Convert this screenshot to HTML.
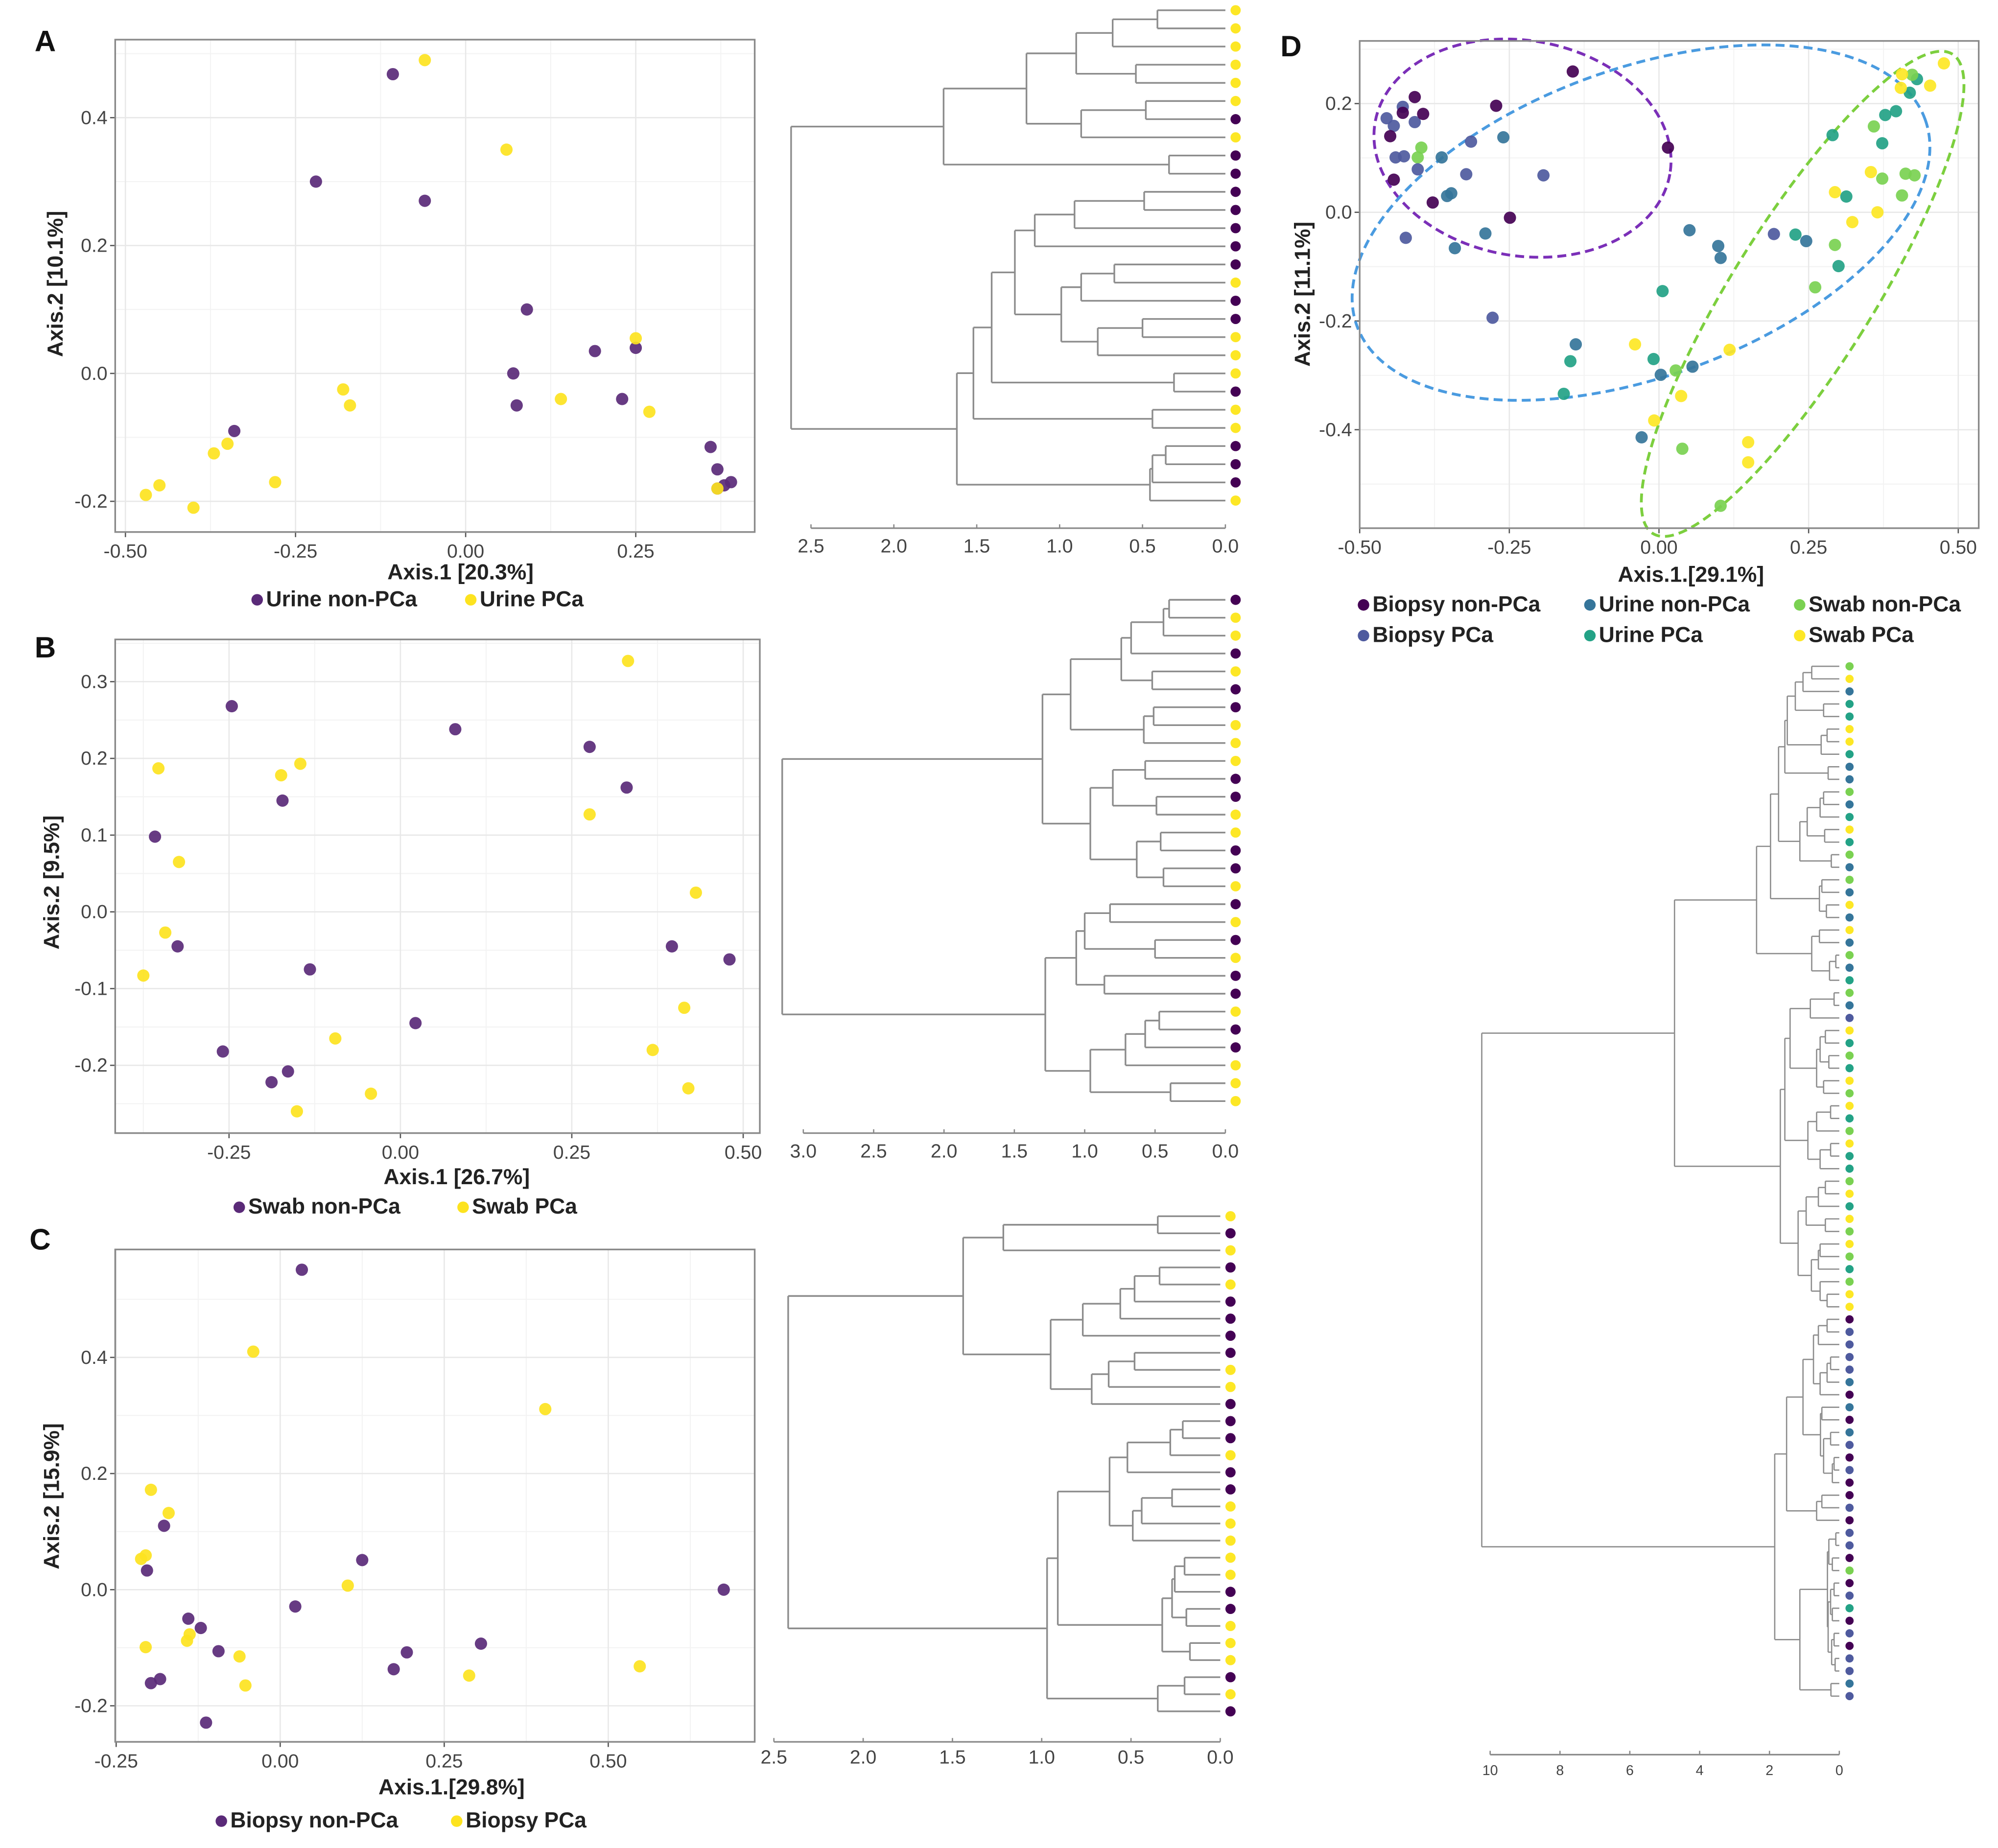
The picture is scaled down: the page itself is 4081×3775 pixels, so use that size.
<!DOCTYPE html>
<html><head><meta charset="utf-8"><style>
html,body{margin:0;padding:0;background:#fff;}
svg{display:block;}
text{font-family:"Liberation Sans",Arial,sans-serif;}
</style></head><body>
<svg id="fig" xmlns="http://www.w3.org/2000/svg" width="4081" height="3775" viewBox="0 0 1562 1445">
<rect x="0" y="0" width="1562" height="1445" fill="#fff"/>
<g id="root"></g>
</svg>
<script>
// ---------- DATA ----------
// Panel A (Urine)
const aPurpleX=[-0.107,-0.22,-0.06,0.09,0.19,0.07,0.25,0.075,0.23,-0.34,0.36,0.37,0.38,0.37,0.39];
const aPurpleY=[0.468,0.30,0.27,0.10,0.035,0.0,0.04,-0.05,-0.04,-0.09,-0.115,-0.15,-0.175,-0.18,-0.17];
const aYellowX=[-0.06,0.06,0.25,-0.18,-0.17,0.14,0.27,-0.35,-0.37,-0.28,-0.45,-0.47,-0.40,0.37];
const aYellowY=[0.49,0.35,0.055,-0.025,-0.05,-0.04,-0.06,-0.11,-0.125,-0.17,-0.175,-0.19,-0.21,-0.18];
const aXTicks=[-0.5,-0.25,0,0.25];
const aXLabels=["-0.50","-0.25","0.00","0.25"];
const aYTicks=[-0.2,0,0.2,0.4];
const aYLabels=["-0.2","0.0","0.2","0.4"];
// Panel B (Swab)
const bPurpleX=[-0.246,0.080,0.276,0.330,-0.172,-0.358,-0.325,-0.132,0.396,0.480,0.022,-0.259,-0.164,-0.188];
const bPurpleY=[0.268,0.238,0.215,0.162,0.145,0.098,-0.045,-0.075,-0.045,-0.062,-0.145,-0.182,-0.208,-0.222];
const bYellowX=[0.332,-0.353,-0.146,-0.174,0.276,-0.323,0.431,-0.343,-0.375,-0.095,0.414,0.368,-0.043,-0.151,0.420];
const bYellowY=[0.327,0.187,0.193,0.178,0.127,0.065,0.025,-0.027,-0.083,-0.165,-0.125,-0.180,-0.237,-0.260,-0.230];
const bXTicks=[-0.25,0,0.25,0.5];
const bXLabels=["-0.25","0.00","0.25","0.50"];
const bYTicks=[-0.2,-0.1,0,0.1,0.2,0.3];
const bYLabels=["-0.2","-0.1","0.0","0.1","0.2","0.3"];
// Panel C (Biopsy)
const cPurpleX=[0.033,-0.177,-0.203,0.125,0.023,-0.140,-0.121,-0.094,-0.183,-0.197,0.173,0.193,0.306,-0.113,0.676];
const cPurpleY=[0.551,0.110,0.033,0.051,-0.029,-0.050,-0.066,-0.106,-0.154,-0.161,-0.137,-0.108,-0.093,-0.229,0.0];
const cYellowX=[-0.041,0.404,-0.197,-0.170,-0.212,-0.205,-0.205,-0.138,-0.142,0.103,-0.062,-0.053,0.288,0.548];
const cYellowY=[0.410,0.311,0.172,0.132,0.053,0.059,-0.099,-0.077,-0.088,0.007,-0.115,-0.165,-0.148,-0.132];
const cXTicks=[-0.25,0,0.25,0.5];
const cXLabels=["-0.25","0.00","0.25","0.50"];
const cYTicks=[-0.2,0,0.2,0.4];
const cYLabels=["-0.2","0.0","0.2","0.4"];
// Panel D (all)
const dBiopsyNonX=[-0.144,-0.408,-0.428,-0.394,-0.272,-0.449,0.015,-0.443,-0.378,-0.249];
const dBiopsyNonY=[0.259,0.212,0.183,0.181,0.196,0.140,0.119,0.060,0.018,-0.010];
const dBiopsyPcaX=[-0.455,-0.428,-0.443,-0.408,-0.440,-0.426,-0.403,-0.314,-0.322,-0.193,-0.423,-0.278,0.192];
const dBiopsyPcaY=[0.173,0.194,0.159,0.166,0.101,0.103,0.079,0.130,0.070,0.068,-0.047,-0.194,-0.040];
const dUrineNonX=[-0.363,-0.260,-0.347,-0.354,-0.290,-0.341,0.051,0.099,0.103,0.246,-0.139,0.056,0.003,-0.029];
const dUrineNonY=[0.101,0.138,0.035,0.030,-0.039,-0.066,-0.033,-0.062,-0.084,-0.053,-0.243,-0.284,-0.299,-0.414];
const dUrinePcaX=[0.396,0.419,0.431,0.378,0.373,0.290,0.313,0.300,0.228,0.006,-0.148,-0.159,-0.009];
const dUrinePcaY=[0.186,0.220,0.245,0.179,0.127,0.142,0.029,-0.099,-0.041,-0.145,-0.274,-0.334,-0.270];
const dSwabNonX=[-0.397,-0.403,0.359,0.373,0.412,0.427,0.406,0.294,0.261,0.028,0.039,0.103,0.423];
const dSwabNonY=[0.119,0.101,0.158,0.062,0.071,0.068,0.031,-0.060,-0.138,-0.291,-0.435,-0.540,0.253];
const dSwabPcaX=[0.476,0.406,0.404,0.453,0.354,0.294,0.365,0.323,-0.040,0.118,0.037,-0.008,0.149,0.149];
const dSwabPcaY=[0.274,0.254,0.229,0.233,0.074,0.037,0.000,-0.018,-0.243,-0.253,-0.338,-0.383,-0.423,-0.460];
const dXTicks=[-0.5,-0.25,0,0.25,0.5];
const dXLabels=["-0.50","-0.25","0.00","0.25","0.50"];
const dYTicks=[-0.4,-0.2,0,0.2];
const dYLabels=["-0.4","-0.2","0.0","0.2"];
// ellipses (data units: cx, cy, rx, ry in x/y units, rotation deg)
const dEllipseCx=[-0.228,-0.030,0.240];
const dEllipseCy=[0.118,-0.019,-0.150];
const dEllipseRx=[0.250,0.505,0.118];
const dEllipseRy=[0.198,0.283,0.520];
const dEllipseRot=[10,-20,32];
// Dendrograms: node = [height, left, right], leaf = group code
const dendroA=[2.62,
  [1.70,
    [1.20,
      [0.90,[0.68,[0.41,"Y","Y"],"Y"],[0.54,"Y","Y"]],
      [0.87,[0.48,"Y","P"],"Y"]],
    [0.34,"P","P"]],
  [1.62,
    [1.52,
      [1.41,
        [1.27,
          [1.15,[0.91,[0.49,"P","P"],"P"],"P"],
          [0.99,[0.87,[0.67,"P","Y"],"P"],[0.77,[0.50,"P","Y"],"Y"]]],
        [0.31,"Y","P"]],
      [0.44,"Y","Y"]],
    [0.455,[0.44,[0.36,"P","P"],"P"],"Y"]]];
const dendroB=[3.15,
  [1.30,
    [1.10,
      [0.74,[0.67,[0.44,[0.40,"P","Y"],"Y"],"P"],[0.52,"Y","P"]],
      [0.58,[0.51,"P","Y"],"Y"]],
    [0.96,
      [0.80,[0.57,"Y","P"],[0.49,"P","Y"]],
      [0.63,[0.46,"Y","P"],[0.44,"P","Y"]]]],
  [1.28,
    [1.06,
      [1.00,[0.82,"P","Y"],[0.50,"P","Y"]],
      [0.86,"P","P"]],
    [0.96,
      [0.71,[0.57,[0.47,"Y","P"],"P"],"Y"],
      [0.39,"Y","Y"]]]];
const dendroC=[2.42,
  [1.44,
    [1.215,[0.35,"Y","P"],"Y"],
    [0.95,
      [0.77,[0.56,[0.48,[0.34,"P","Y"],"P"],"P"],"P"],
      [0.72,[0.625,[0.48,"P","Y"],"Y"],"P"]]],
  [0.97,
    [0.91,
      [0.62,
        [0.52,[0.28,[0.21,"P","P"],"Y"],"P"],
        [0.49,[0.44,[0.27,"P","Y"],"Y"],"Y"]],
      [0.325,
        [0.27,[0.255,[0.20,"Y","Y"],"P"],[0.19,"P","Y"]],
        [0.17,"Y","Y"]]],
    [0.35,[0.20,"P","Y"],"P"]]];
const dendroD=[10.24,
  [4.72,
    [2.37,
      [1.97,
        [1.74,
          [1.56,
            [1.49,[1.26,[1.04,[0.79,"G","Y"],"U"],[0.45,"T","T"]],[0.52,[0.35,"Y","Y"],"T"]],
            [0.32,"U","U"]],
          [1.13,[0.92,[0.55,[0.45,"G","U"],"T"],[0.42,"Y","T"]],[0.23,"G","U"]]],
        [0.57,[0.50,"G","U"],[0.37,"Y","U"]]],
      [0.79,[0.57,"Y","U"],[0.28,[0.10,"G","U"],"T"]]],
    [1.69,
      [1.56,
        [1.41,
          [0.83,[0.15,"G","U"],"B"],
          [0.65,[0.55,[0.40,"Y","T"],[0.30,"G","T"]],[0.45,"Y","G"]]],
        [0.90,[0.65,[0.25,"Y","T"],"G"],[0.55,[0.25,"Y","T"],"T"]]],
      [1.18,
        [0.95,[0.60,[0.40,"G","Y"],"T"],[0.40,"Y","G"]],
        [0.80,[0.60,[0.55,"Y","G"],"T"],[0.55,"G",[0.35,"Y","Y"]]]]]],
  [1.85,
    [1.51,
      [1.04,
        [0.74,[0.60,[0.35,"P","B"],"B"],[0.55,[0.35,[0.25,"B","B"],"U"],"P"]],
        [0.54,[0.50,"U","P"],[0.45,[0.25,"U","B"],[0.20,[0.15,"P","B"],"P"]]]],
      [0.65,[0.50,"P","B"],"P"]],
    [1.13,
      [0.34,[0.30,[0.10,"B","B"],[0.20,"P","G"]],[0.32,[0.25,[0.15,"P","B"],[0.20,"T","P"]],[0.22,[0.15,"B","P"],[0.12,"B","B"]]]],
      [0.24,"U","B"]]]];
const dendroATicks=[0,0.5,1,1.5,2,2.5];
const dendroBTicks=[0,0.5,1,1.5,2,2.5,3];
const dendroCTicks=[0,0.5,1,1.5,2,2.5];
const dendroDTicks=[0,2,4,6,8,10];

// ---------- RENDER HELPERS ----------
const NS="http://www.w3.org/2000/svg";
const root=document.getElementById('root');
function mk(tag,attrs,parent,txt){const e=document.createElementNS(NS,tag);for(const k in attrs)e.setAttribute(k,attrs[k]);if(txt!==undefined)e.textContent=txt;(parent||root).appendChild(e);return e;}
const COL={P:"#440154",Y:"#fde725",B:"#4e5a9e",U:"#35759a",T:"#23a286",G:"#7ad151"};
const SCAT_P="#5a2a78", SCAT_Y="#fde31f";

function scatterPanel(cfg){
  const g=mk('g',{});
  
  
  const sx=v=>cfg.x0+v*cfg.kx, sy=v=>cfg.y0-v*cfg.ky;
  const bg=mk('rect',{x:cfg.L,y:cfg.T,width:cfg.R-cfg.L,height:cfg.B-cfg.T,fill:"#fff"},g);
  
  
  // minor grid
  const xs=cfg.xt, ys=cfg.yt;
  const dx=xs[1]-xs[0], dy=ys[1]-ys[0];
  for(let v=xs[0]-dx*2+dx/2; v<xs[xs.length-1]+dx*2; v+=dx){const p=sx(v);if(p>cfg.L&&p<cfg.R)mk('line',{x1:p,x2:p,y1:cfg.T,y2:cfg.B,stroke:"#f3f3f3","stroke-width":0.8},g);}
  for(let v=ys[0]-dy*2+dy/2; v<ys[ys.length-1]+dy*2; v+=dy){const p=sy(v);if(p>cfg.T&&p<cfg.B)mk('line',{x1:cfg.L,x2:cfg.R,y1:p,y2:p,stroke:"#f3f3f3","stroke-width":0.8},g);}
  xs.forEach((v,i)=>{const p=sx(v);
    const gl=mk('line',{x1:p,x2:p,y1:cfg.T,y2:cfg.B,stroke:"#e8e8e8","stroke-width":1},g);
    
    
    mk('line',{x1:p,x2:p,y1:cfg.B,y2:cfg.B+4,stroke:"#555","stroke-width":1},g);
    const t=mk('text',{x:p,y:cfg.B+20,"text-anchor":"middle","font-size":15,fill:"#444"},g,cfg.xl[i]);
    
    
  });
  ys.forEach((v,i)=>{const p=sy(v);
    const gl=mk('line',{x1:cfg.L,x2:cfg.R,y1:p,y2:p,stroke:"#e8e8e8","stroke-width":1},g);
    
    
    mk('line',{x1:cfg.L-4,x2:cfg.L,y1:p,y2:p,stroke:"#555","stroke-width":1},g);
    const t=mk('text',{x:cfg.L-6,y:p+5,"text-anchor":"end","font-size":15,fill:"#444"},g,cfg.yl[i]);
    
    
  });
  // ellipses
  if(cfg.ell){cfg.ell.forEach(e=>{
    const cx=sx(e.cx), cy=sy(e.cy);
    const el=mk('ellipse',{cx:cx,cy:cy,rx:e.rx*cfg.kx,ry:e.ry*cfg.ky,fill:"none",stroke:e.c,"stroke-width":2.2,"stroke-dasharray":"7 4",transform:`rotate(${e.rot} ${cx} ${cy})`},g);
    
    
  });}
  cfg.series.forEach(s=>{
    s.x.forEach((v,i)=>{
      const c=mk('circle',{cx:sx(v),cy:sy(s.y[i]),r:cfg.r||4.8,fill:s.c,"fill-opacity":0.92},g);
      
      
    });
  });
  const fr=mk('rect',{x:cfg.L,y:cfg.T,width:cfg.R-cfg.L,height:cfg.B-cfg.T,fill:"none",stroke:"#8a8a8a","stroke-width":1.3},g);
  
  
  const xt=mk('text',{x:cfg.xtx,y:cfg.xty,"text-anchor":"middle","font-size":17,"font-weight":"bold",fill:"#222"},g,cfg.xtitle);
  
  
  const yt=mk('text',{x:0,y:0,"text-anchor":"middle","font-size":17,"font-weight":"bold",fill:"#222",transform:`translate(${cfg.ytx},${cfg.yty}) rotate(-90)`},g,cfg.ytitle);
  
  
  const pl=mk('text',{x:cfg.lx,y:cfg.ly,"font-size":23,"font-weight":"bold",fill:"#111"},g,cfg.letter);
  
  
  cfg.legend.forEach(l=>{
    const lg=mk('g',{},g);
    
    
    mk('circle',{cx:l.x,cy:l.y-5,r:4.5,fill:l.c},lg);
    mk('text',{x:l.x+7,y:l.y,"font-size":17,"font-weight":"bold",fill:"#222"},lg,l.t);
  });
}

function dendrogram(cfg){
  const g=mk('g',{});
  
  
  const sx=h=>cfg.x0-h*cfg.kx;
  let idx=0;
  function lay(n){
    if(typeof n==="string"){const y=cfg.yTop+idx*cfg.step;idx++;
      const c=mk('circle',{cx:cfg.x0+cfg.dotOff,cy:y,r:cfg.dotR,fill:COL[n]},g);
      
      
      return {y:y,h:0};}
    const a=lay(n[1]), b=lay(n[2]); const x=sx(n[0]);
    [a,b].forEach(ch=>{
      const l=mk('line',{x1:x,x2:sx(ch.h),y1:ch.y,y2:ch.y,stroke:"#8c8c8c","stroke-width":cfg.sw},g);
      
      
    });
    const v=mk('line',{x1:x,x2:x,y1:a.y,y2:b.y,stroke:"#8c8c8c","stroke-width":cfg.sw},g);
    
    
    return {y:(a.y+b.y)/2,h:n[0]};
  }
  lay(cfg.tree);
  const ax=mk('line',{x1:sx(cfg.ticks[cfg.ticks.length-1]),x2:cfg.x0,y1:cfg.axY,y2:cfg.axY,stroke:"#888","stroke-width":1.2},g);
  
  
  cfg.ticks.forEach(t=>{
    mk('line',{x1:sx(t),x2:sx(t),y1:cfg.axY-3,y2:cfg.axY,stroke:"#888","stroke-width":1},g);
    const tx=mk('text',{x:sx(t),y:cfg.axY+cfg.lblOff,"text-anchor":"middle","font-size":cfg.fs,fill:"#444"},g,cfg.fmt(t));
    
    
  });
}

// ---------- PANELS ----------
scatterPanel({name:"panel-a-pcoa",L:90,T:31,R:590,B:416,x0:364,kx:532,y0:292,ky:500,
  xt:aXTicks,xl:aXLabels,yt:aYTicks,yl:aYLabels,
  series:[{name:"urine-non-pca",x:aPurpleX,y:aPurpleY,c:SCAT_P},{name:"urine-pca",x:aYellowX,y:aYellowY,c:SCAT_Y}],
  xtitle:"Axis.1 [20.3%]",xtx:360,xty:453,ytitle:"Axis.2 [10.1%]",ytx:49,yty:222,letter:"A",lx:27,ly:40,
  legend:[{x:201,y:474,c:SCAT_P,t:"Urine non-PCa"},{x:368,y:474,c:SCAT_Y,t:"Urine PCa"}]});
scatterPanel({name:"panel-b-pcoa",L:90,T:500,R:594,B:886,x0:313,kx:536,y0:713,ky:600,
  xt:bXTicks,xl:bXLabels,yt:bYTicks,yl:bYLabels,
  series:[{name:"swab-non-pca",x:bPurpleX,y:bPurpleY,c:SCAT_P},{name:"swab-pca",x:bYellowX,y:bYellowY,c:SCAT_Y}],
  xtitle:"Axis.1 [26.7%]",xtx:357,xty:926,ytitle:"Axis.2 [9.5%]",ytx:46,yty:690,letter:"B",lx:27,ly:514,
  legend:[{x:187,y:949,c:SCAT_P,t:"Swab non-PCa"},{x:362,y:949,c:SCAT_Y,t:"Swab PCa"}]});
scatterPanel({name:"panel-c-pcoa",L:90,T:977,R:590,B:1362,x0:219,kx:513,y0:1243,ky:454,
  xt:cXTicks,xl:cXLabels,yt:cYTicks,yl:cYLabels,
  series:[{name:"biopsy-non-pca",x:cPurpleX,y:cPurpleY,c:SCAT_P},{name:"biopsy-pca",x:cYellowX,y:cYellowY,c:SCAT_Y}],
  xtitle:"Axis.1.[29.8%]",xtx:353,xty:1403,ytitle:"Axis.2 [15.9%]",ytx:46,yty:1170,letter:"C",lx:23,ly:977,
  legend:[{x:173,y:1429,c:SCAT_P,t:"Biopsy non-PCa"},{x:357,y:1429,c:SCAT_Y,t:"Biopsy PCa"}]});
scatterPanel({name:"panel-d-pcoa",L:1063,T:32,R:1547,B:413,x0:1297,kx:468,y0:166,ky:425,r:4.8,
  xt:dXTicks,xl:dXLabels,yt:dYTicks,yl:dYLabels,
  ell:[
    {name:"biopsy-ellipse",cx:dEllipseCx[0],cy:dEllipseCy[0],rx:dEllipseRx[0],ry:dEllipseRy[0],rot:dEllipseRot[0],c:"#7b2fb8"},
    {name:"urine-ellipse",cx:dEllipseCx[1],cy:dEllipseCy[1],rx:dEllipseRx[1],ry:dEllipseRy[1],rot:dEllipseRot[1],c:"#4a9be0"},
    {name:"swab-ellipse",cx:dEllipseCx[2],cy:dEllipseCy[2],rx:dEllipseRx[2],ry:dEllipseRy[2],rot:dEllipseRot[2],c:"#7ccf3e"}],
  series:[
    {name:"urine-non-pca",x:dUrineNonX,y:dUrineNonY,c:COL.U},
    {name:"urine-pca",x:dUrinePcaX,y:dUrinePcaY,c:COL.T},
    {name:"swab-non-pca",x:dSwabNonX,y:dSwabNonY,c:COL.G},
    {name:"swab-pca",x:dSwabPcaX,y:dSwabPcaY,c:COL.Y},
    {name:"biopsy-pca",x:dBiopsyPcaX,y:dBiopsyPcaY,c:COL.B},
    {name:"biopsy-non-pca",x:dBiopsyNonX,y:dBiopsyNonY,c:COL.P}],
  xtitle:"Axis.1.[29.1%]",xtx:1322,xty:455,ytitle:"Axis.2 [11.1%]",ytx:1024,yty:230,letter:"D",lx:1001,ly:44,
  legend:[{x:1066,y:478,c:COL.P,t:"Biopsy non-PCa"},{x:1243,y:478,c:COL.U,t:"Urine non-PCa"},{x:1407,y:478,c:COL.G,t:"Swab non-PCa"},
          {x:1066,y:502,c:COL.B,t:"Biopsy PCa"},{x:1243,y:502,c:COL.T,t:"Urine PCa"},{x:1407,y:502,c:COL.Y,t:"Swab PCa"}]});

const f1=t=>t.toFixed(1);
dendrogram({name:"panel-a-dendrogram",tree:dendroA,x0:958,kx:129.6,yTop:8,step:14.2,dotOff:8,dotR:4,sw:1.3,
  axY:413,ticks:dendroATicks,fmt:f1,lblOff:19,fs:15});
dendrogram({name:"panel-b-dendrogram",tree:dendroB,x0:958,kx:110,yTop:469,step:14.0,dotOff:8,dotR:4,sw:1.3,
  axY:886,ticks:dendroBTicks,fmt:f1,lblOff:19,fs:15});
dendrogram({name:"panel-c-dendrogram",tree:dendroC,x0:954,kx:139.6,yTop:951,step:13.35,dotOff:8,dotR:4,sw:1.3,
  axY:1362,ticks:dendroCTicks,fmt:f1,lblOff:17,fs:15});
dendrogram({name:"panel-d-dendrogram",tree:dendroD,x0:1438,kx:27.3,yTop:521,step:9.82,dotOff:8,dotR:3.2,sw:1,
  axY:1372,ticks:dendroDTicks,fmt:t=>String(t),lblOff:16,fs:11});
</script>
</body></html>
